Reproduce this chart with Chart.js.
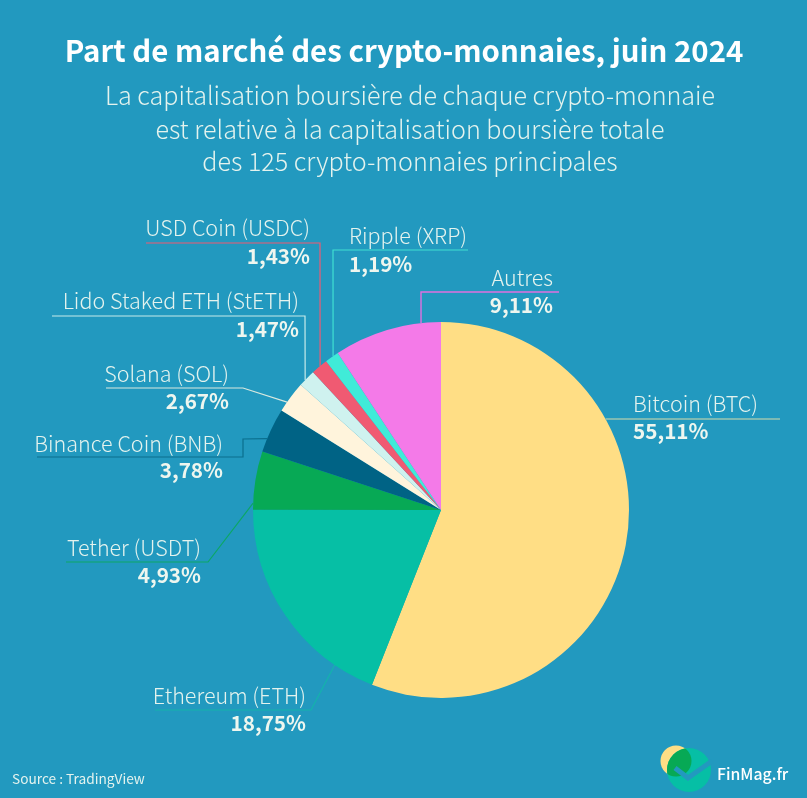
<!DOCTYPE html>
<html lang="fr"><head><meta charset="utf-8">
<script src="https://cdn.jsdelivr.net/npm/chart.js@4"></script>
<style>html,body{margin:0;padding:0;background:#2299bf}canvas{display:block}</style>
</head><body><canvas id="c" width="807" height="798"></canvas>
<script>
const categories = ["Bitcoin (BTC)","Ethereum (ETH)","Tether (USDT)","Binance Coin (BNB)","Solana (SOL)","Lido Staked ETH (StETH)","USD Coin (USDC)","Ripple (XRP)","Autres"];
const shares = [55.11,18.75,4.93,3.78,2.67,1.47,1.43,1.19,9.11];
const sliceColors = ["#FFDE85","#06BFA5","#07A955","#006385","#FFF4DC","#CFF2EF","#F05A72","#40EBD8","#F47AE8"];
const titleText = "Part de marché des crypto-monnaies, juin 2024";
const subtitleLines = ["La capitalisation boursière de chaque crypto-monnaie","est relative à la capitalisation boursière totale","des 125 crypto-monnaies principales"];
const sourceText = "Source : TradingView";
const brandText = "FinMag.fr";

const FONT = '"Noto Sans CJK SC","Noto Sans",sans-serif';
// Label placement: align, text x, name baseline, value baseline, leader path, position along the slice
const labelLayout = [
  {a:"left", x:633,n:412,v:439,path:[[780,419]],t:.303,c:"#9DC6B0",w:1.6},
  {a:"right",x:306,n:704,v:731,path:[[155,710],[311,710]],t:.188,c:"#14B3AC",w:1.2},
  {a:"right",x:201,n:556,v:583,path:[[66,562],[208,562]],t:.11,c:"#0CA766",w:1.2},
  {a:"right",x:223,n:452,v:478,path:[[37,457],[243,457],[243,439]],t:.30,c:"#0A6F8E",w:1.2},
  {a:"right",x:229,n:382,v:409,path:[[106,388],[243,388]],t:.315,c:"#D9E9DF",w:1.2},
  {a:"right",x:299,n:309,v:337,path:[[52,316],[305,316]],t:.374,c:"#C6EBEA",w:1.2},
  {a:"right",x:310,n:236,v:264,path:[[146,243],[320,243]],t:.55,c:"#F05A72",w:1.2},
  {a:"left", x:349,n:244,v:272,path:[[468,250],[333,250]],t:.607,c:"#40E0D2",w:1.2},
  {a:"right",x:553,n:286,v:313,path:[[559,292],[421,292]],t:.817,c:"#E070E0",w:1.4}
];

function text(ctx,s,x,y,font,color,align){
  ctx.font=font;ctx.fillStyle=color;ctx.textAlign=align||"left";ctx.textBaseline="alphabetic";
  ctx.fillText(s,x,y);
}
const annotations={id:"annotations",afterDatasetsDraw(chart){
  const ctx=chart.ctx,arcs=chart.getDatasetMeta(0).data;
  ctx.save();
  ctx.lineJoin="miter";
  labelLayout.forEach((l,i)=>{
    const p=arcs[i].getProps(["x","y","startAngle","endAngle","outerRadius"],true);
    const ang=p.startAngle+l.t*(p.endAngle-p.startAngle);
    ctx.beginPath();
    l.path.forEach((pt,k)=>k?ctx.lineTo(pt[0],pt[1]):ctx.moveTo(pt[0],pt[1]));
    ctx.lineTo(p.x+p.outerRadius*Math.cos(ang),p.y+p.outerRadius*Math.sin(ang));
    ctx.strokeStyle=l.c;ctx.lineWidth=l.w;ctx.stroke();
    text(ctx,categories[i],l.x,l.n,'300 21.5px '+FONT,"#E4F3EE",l.a);
    text(ctx,shares[i].toFixed(2).replace(".",",")+"%",l.x,l.v,'700 20.7px '+FONT,"#EEF6EF",l.a);
  });
  text(ctx,titleText,404,62,'700 29.4px '+FONT,"#FFFFFF","center");
  subtitleLines.forEach((s,i)=>text(ctx,s,410,[105,139,171][i],'300 25.1px '+FONT,"#E4F3EE","center"));
  text(ctx,sourceText,12,784,'400 13.7px '+FONT,"#E4F3EE");
  // brand mark
  ctx.fillStyle="#FFDE85";ctx.beginPath();ctx.arc(676,761,15.5,0,Math.PI*2);ctx.fill();
  ctx.fillStyle="#06BFA5";ctx.beginPath();ctx.arc(689,770,22,0,Math.PI*2);ctx.fill();
  ctx.save();ctx.beginPath();ctx.arc(676,761,15.5,0,Math.PI*2);ctx.clip();
  ctx.fillStyle="#07A955";ctx.beginPath();ctx.arc(689,770,22,0,Math.PI*2);ctx.fill();ctx.restore();
  ctx.strokeStyle="#2299bf";ctx.lineWidth=5;ctx.lineJoin="miter";ctx.beginPath();
  ctx.moveTo(675,768);ctx.lineTo(688,778);ctx.lineTo(712,761);ctx.stroke();
  text(ctx,brandText,717,780,'500 15.8px '+FONT,"#FFFFFF");
  ctx.restore();
}};
new Chart(document.getElementById("c"),{
  type:"pie",
  data:{labels:categories,datasets:[{data:shares,backgroundColor:sliceColors,borderWidth:0}]},
  options:{responsive:false,animation:false,
    layout:{padding:{left:253,right:178,top:322,bottom:100}},
    plugins:{legend:{display:false},tooltip:{enabled:false}}},
  plugins:[annotations]
});
</script></body></html>
